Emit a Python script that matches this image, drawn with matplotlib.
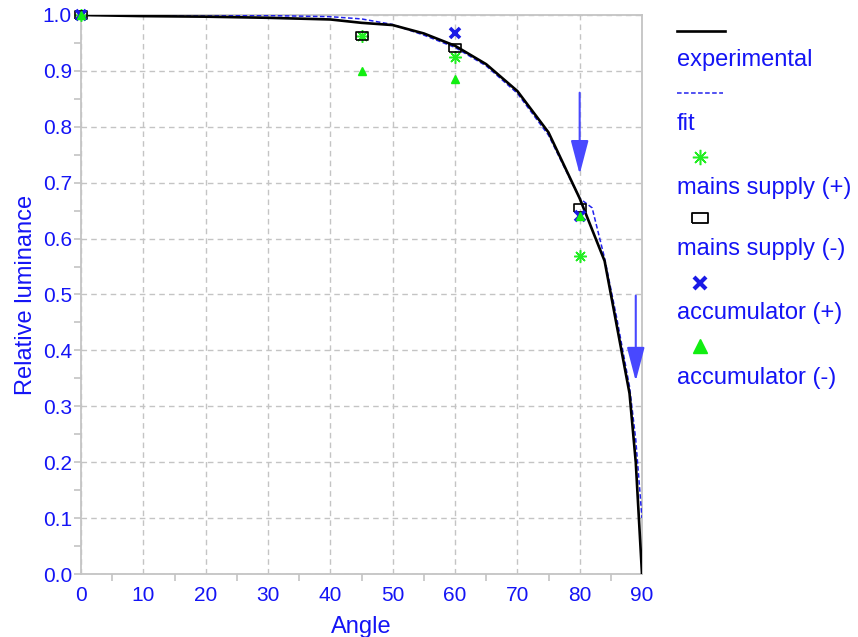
import numpy as np
import matplotlib
matplotlib.use("Agg")
import matplotlib.pyplot as plt
from matplotlib.lines import Line2D
from matplotlib.ticker import MultipleLocator, FixedLocator

plt.rcParams["font.family"] = ["Liberation Sans", "DejaVu Sans"]

BLUE = "#1414f5"
GRID = "#c4c4c4"
GREEN = "#22ee22"

# experimental curve
exp_angle = [0, 10, 20, 30, 40, 45, 50, 55, 60, 65, 70, 75, 80, 84, 88, 89, 90]
exp_lum = [1.0, 0.998, 0.997, 0.995, 0.992, 0.986, 0.982, 0.967, 0.945, 0.912,
           0.864, 0.790, 0.672, 0.560, 0.323, 0.20, 0.0]

# fitted curve
fit_angle = [0, 10, 20, 30, 40, 45, 50, 55, 60, 65, 70, 75, 80, 82, 84, 86, 88, 89, 90]
fit_lum = [1.0, 1.0, 1.0, 0.999, 0.997, 0.993, 0.983, 0.964, 0.942, 0.909,
           0.860, 0.785, 0.672, 0.655, 0.565, 0.455, 0.335, 0.24, 0.10]

# measured points
pt_angle = [0, 45, 60, 80]
mains_plus = [1.0, 0.962, 0.925, 0.568]
mains_minus = [1.0, 0.963, 0.9415, 0.654]
acc_angle = [0, 60, 80]
acc_plus = [1.0, 0.967, 0.640]
acc_minus = [1.0, 0.90, 0.8855, 0.640]

# downward arrows: (angle, start, tip)
arrows = [(80, 0.861, 0.715), (89, 0.498, 0.345)]

rect = [(-1, -0.68), (1, -0.68), (1, 0.68), (-1, 0.68), (-1, -0.68)]
asterisk = (8, 2, 0)

fig = plt.figure(figsize=(8.58, 6.37), dpi=100)
ax = fig.add_axes([81 / 858, 1 - 574 / 637, (642 - 81) / 858, (574 - 15) / 637])

ax.plot(fit_angle, fit_lum, color="#2222ee", lw=1.1, dashes=(3, 1.6), zorder=3)
ax.plot(exp_angle, exp_lum, color="black", lw=1.9, zorder=4)

ax.plot(pt_angle, mains_plus, ls="none", marker=asterisk, ms=9, mew=1.1,
        color=GREEN, zorder=5, clip_on=False)
ax.plot(pt_angle, mains_minus, ls="none", marker=rect, ms=8, mew=1.2,
        mfc="none", mec="black", zorder=6, clip_on=False)
ax.plot(acc_angle, acc_plus, ls="none", marker="x", ms=7, mew=2.6,
        color="#1a1ae6", zorder=7, clip_on=False)
ax.plot(pt_angle, acc_minus, ls="none", marker="^", ms=6,
        color="#11ee11", mec="#11ee11", zorder=8, clip_on=False)

for a, y0, y1 in arrows:
    ax.annotate("", xy=(a, y1), xytext=(a, y0),
                arrowprops=dict(arrowstyle="-|>,head_length=2.1,head_width=0.55",
                                color="#4848ff", lw=1.5, mutation_scale=10,
                                shrinkA=0, shrinkB=0), zorder=9)

ax.set_xlim(0, 90)
ax.set_ylim(0, 1.0)
ax.xaxis.set_major_locator(MultipleLocator(10))
ax.xaxis.set_minor_locator(FixedLocator([0, 5, 15, 25, 35, 45, 55, 65, 75, 85]))
ax.yaxis.set_major_locator(MultipleLocator(0.1))
ax.yaxis.set_minor_locator(MultipleLocator(0.05))
ax.yaxis.set_major_formatter(matplotlib.ticker.FormatStrFormatter("%.1f"))

ax.tick_params(axis="x", which="major", length=0, pad=8.5, labelsize=15, labelcolor=BLUE)
ax.tick_params(axis="x", which="minor", length=5, width=1.2, color=GRID)
ax.tick_params(axis="y", which="both", length=5, width=1.2, color=GRID,
               pad=1.5, labelsize=15, labelcolor=BLUE)

for s in ax.spines.values():
    s.set_color(GRID)
    s.set_linewidth(1.3)

ax.grid(True, which="major", color=GRID, ls=(0, (4, 3)), lw=1.0)
ax.set_axisbelow(True)

ax.set_xlabel("Angle", fontsize=17, color=BLUE, labelpad=8)
ax.set_ylabel("Relative luminance", fontsize=17, color=BLUE, labelpad=4)

# legend: handle on one row, text on the next
def fy(px):
    return 1 - px / 637

def fx(px):
    return px / 858

fig.add_artist(Line2D([fx(677), fx(725)], [fy(31), fy(31)], color="black", lw=1.9,
                      transform=fig.transFigure))
fig.add_artist(Line2D([fx(677), fx(723)], [fy(93), fy(93)], color="#2222ee", lw=1.1,
                      dashes=(3, 1.6), transform=fig.transFigure))
fig.add_artist(Line2D([fx(700)], [fy(157)], ls="none", marker=asterisk, ms=11, mew=1.1,
                      color=GREEN, transform=fig.transFigure))
fig.add_artist(Line2D([fx(700)], [fy(218)], ls="none", marker=rect, ms=11, mew=1.3,
                      mfc="white", mec="black", transform=fig.transFigure))
fig.add_artist(Line2D([fx(700)], [fy(283)], ls="none", marker="x", ms=9, mew=3,
                      color="#1a1ae6", transform=fig.transFigure))
fig.add_artist(Line2D([fx(700)], [fy(346)], ls="none", marker="^", ms=10,
                      color="#11ee11", transform=fig.transFigure))

labels = ["experimental", "fit", "mains supply (+)", "mains supply (-)",
          "accumulator (+)", "accumulator (-)"]
label_y = [60, 124, 188, 249, 313, 378]
for t, y in zip(labels, label_y):
    fig.text(fx(677), fy(y), t, fontsize=17, color=BLUE, va="center", ha="left")

fig.savefig("out.png", dpi=100)
